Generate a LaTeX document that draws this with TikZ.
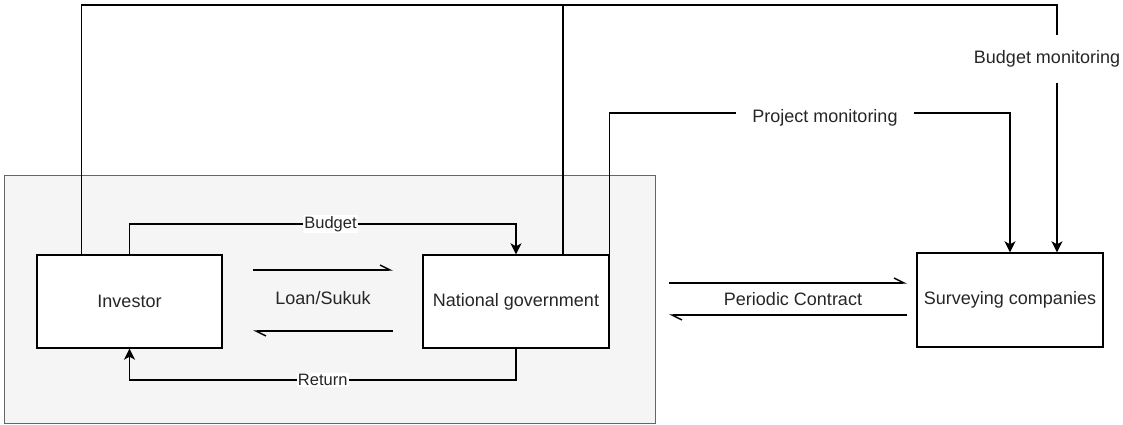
\documentclass[tikz,border=0pt]{standalone}
\usepackage{fontspec}
\setmainfont{Liberation Sans}
\usetikzlibrary{arrows.meta}
\definecolor{panelfill}{HTML}{F5F5F5}
\definecolor{panelline}{HTML}{666666}
\definecolor{ink}{HTML}{262626}
\begin{document}
\begin{tikzpicture}[x=1pt,y=-1pt,
  entity/.style={draw=black,line width=1.4pt,fill=white,inner sep=0pt,
    minimum width=185pt,minimum height=93pt,
    font=\fontsize{18}{21}\selectfont,text=ink},
  link/.style={draw=black,line width=1.4pt},
  flow/.style={link,-{Stealth[length=11pt,width=11pt,inset=3pt]}},
  harpoon/.style={link,-{Straight Barb[left,length=10pt,width=10pt]}},
  edgelabel/.style={fill=white,inner xsep=1pt,inner ysep=1.5pt,
    font=\fontsize{16.5}{19}\selectfont,text=ink},
  caption/.style={font=\fontsize{18}{21}\selectfont,text=ink,inner sep=0pt}]

\useasboundingbox (0,0) rectangle (1123,424);

% shaded panel holding the investor / government pair
\node[draw=panelline,fill=panelfill,line width=1pt,inner sep=0pt,
  minimum width=651pt,minimum height=248pt] (panel) at (329.5,299) {};

% the three parties
\node[entity] (inv) at (129.5,301.5) {Investor};
\node[entity,minimum width=186pt] (gov) at (516,301.5) {National government};
\node[entity,minimum width=186pt,minimum height=94pt] (sur) at (1010,300) {Surveying companies};

% heights of the routed connectors
\coordinate (ceil) at (0,5);
\coordinate (pmY) at (0,113);
\coordinate (budY) at (0,224);
\coordinate (retY) at (0,380);

% attachment points on the box edges
\coordinate (invUp) at ([xshift=45pt]inv.north west);
\coordinate (govUp) at ([xshift=47pt]gov.north);
\coordinate (bmIn) at ([xshift=47pt]sur.north);

% budget monitoring: investor and government up over the top to the surveyors
\draw[flow] (invUp) -- (invUp |- ceil) -- (bmIn |- ceil) -- (bmIn);
\draw[link] (govUp) -- (govUp |- ceil);
\node[caption,fill=white,minimum height=48pt] (bmLabel) at (1047,59) {Budget monitoring};

% project monitoring: government to surveyors
\draw[flow] (gov.north east) -- (gov.north east |- pmY) -- (sur.north |- pmY) -- (sur.north);
\node[caption,fill=white,minimum width=178pt,minimum height=22pt] (pmLabel) at (825,118) {Project monitoring};

% budget and return loops between investor and government
\draw[flow] (inv.north) -- (inv.north |- budY)
  -- node[edgelabel,pos=0.52] {Budget} (gov.north |- budY) -- (gov.north);
\draw[flow] (gov.south) -- (gov.south |- retY)
  -- node[edgelabel] {Return} (inv.south |- retY) -- (inv.south);

% loan / sukuk exchange
\coordinate (loanA) at (253,270);
\coordinate (loanB) at (393,270);
\coordinate (loanC) at (393,331);
\coordinate (loanD) at (253,331);
\draw[harpoon] (loanA) -- (loanB);
\draw[harpoon] (loanC) -- (loanD);
\node[caption] (loanLabel) at (323,298) {Loan/Sukuk};

% periodic contract exchange
\coordinate (pcA) at (669,283);
\coordinate (pcB) at (907,283);
\coordinate (pcC) at (907,315);
\coordinate (pcD) at (669,315);
\draw[harpoon] (pcA) -- (pcB);
\draw[harpoon] (pcC) -- (pcD);
\node[caption] (pcLabel) at (793,299) {Periodic Contract};

\end{tikzpicture}
\end{document}
